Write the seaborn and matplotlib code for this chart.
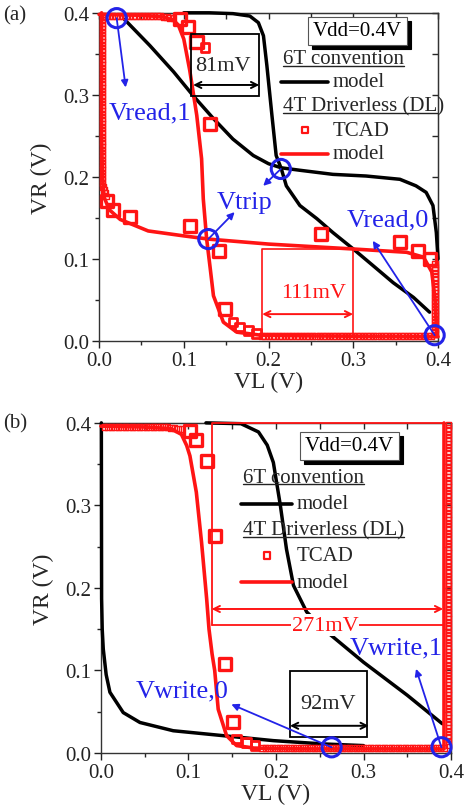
import matplotlib
matplotlib.use("Agg")
import numpy as np
import pandas as pd
import seaborn as sns
import matplotlib.pyplot as plt
from matplotlib.patches import Rectangle

# ---------------- data: panel (a) read ----------------
a6t1_vl = [0.100, 0.130, 0.158, 0.178, 0.188, 0.194, 0.198, 0.204, 0.209, 0.215, 0.221, 0.237, 0.257, 0.276, 0.300, 0.323, 0.347, 0.371, 0.390]
a6t1_vr = [0.400, 0.400, 0.399, 0.396, 0.388, 0.372, 0.336, 0.275, 0.226, 0.210, 0.189, 0.165, 0.149, 0.132, 0.112, 0.092, 0.071, 0.053, 0.035]
a6t2_vl = [0.030, 0.060, 0.088, 0.111, 0.135, 0.158, 0.182, 0.200, 0.215, 0.237, 0.276, 0.315, 0.355, 0.374, 0.386, 0.394, 0.398, 0.400]
a6t2_vr = [0.392, 0.360, 0.328, 0.299, 0.271, 0.246, 0.226, 0.216, 0.211, 0.208, 0.203, 0.201, 0.197, 0.189, 0.181, 0.165, 0.132, 0.100]

aDL1_vl = [0.003, 0.003, 0.004, 0.006, 0.012, 0.025, 0.058, 0.100, 0.130, 0.200, 0.300, 0.363, 0.383, 0.3926, 0.3965, 0.3985]
aDL1_vr = [0.400, 0.250, 0.200, 0.175, 0.160, 0.148, 0.134, 0.128, 0.124, 0.118, 0.112, 0.108, 0.102, 0.084, 0.051, 0.006]
aDL2_vl = [0.000, 0.050, 0.075, 0.088, 0.0936, 0.1000, 0.107, 0.1153, 0.121, 0.123, 0.127, 0.131, 0.135, 0.1467, 0.1625, 0.190, 0.250, 0.400]
aDL2_vr = [0.398, 0.397, 0.395, 0.391, 0.385, 0.368, 0.330, 0.275, 0.222, 0.173, 0.124, 0.090, 0.055, 0.0228, 0.0106, 0.007, 0.006, 0.005]

# TCAD, dense points (small squares)
aT_left_vr = [0.396, 0.392, 0.388, 0.384, 0.380, 0.376, 0.372, 0.368, 0.364, 0.360, 0.356, 0.352, 0.348, 0.344, 0.340, 0.336,
              0.332, 0.328, 0.324, 0.320, 0.316, 0.312, 0.308, 0.304, 0.300, 0.296, 0.292, 0.288, 0.284, 0.280, 0.276, 0.272,
              0.268, 0.264, 0.260, 0.256, 0.252, 0.248, 0.244, 0.240, 0.236, 0.232, 0.228, 0.224, 0.220, 0.216, 0.212, 0.208,
              0.204, 0.200, 0.196, 0.192, 0.188, 0.184, 0.180, 0.176]
aT_left_vl = [0.004] * 52 + [0.005, 0.006, 0.007, 0.008]
aT_top_vl = [0.008, 0.012, 0.016, 0.020, 0.024, 0.028, 0.032, 0.036, 0.040, 0.044, 0.048, 0.052, 0.056, 0.060, 0.064,
             0.068, 0.072, 0.076, 0.080, 0.084, 0.088]
aT_top_vr = [0.396] * 17 + [0.395, 0.395, 0.394, 0.394]
aT_bot_vl = [0.192, 0.196, 0.200, 0.204, 0.208, 0.212, 0.216, 0.220, 0.224, 0.228, 0.232, 0.236, 0.240, 0.244, 0.248, 0.252,
             0.256, 0.260, 0.264, 0.268, 0.272, 0.276, 0.280, 0.284, 0.288, 0.292, 0.296, 0.300, 0.304, 0.308, 0.312, 0.316,
             0.320, 0.324, 0.328, 0.332, 0.336, 0.340, 0.344, 0.348, 0.352, 0.356, 0.360, 0.364, 0.368, 0.372, 0.376, 0.380,
             0.384, 0.388, 0.392]
aT_bot_vr = [0.006] * len(aT_bot_vl)
aT_right_vr = [0.010, 0.014, 0.018, 0.022, 0.026, 0.030, 0.034, 0.038, 0.042, 0.046, 0.050, 0.054, 0.058, 0.062, 0.066,
               0.070, 0.074, 0.078, 0.082, 0.086, 0.090, 0.094]
aT_right_vl = [0.396] * len(aT_right_vr)
# TCAD, sparse points (large squares)
aT_big_vl = [0.0956, 0.105, 0.115, 0.131, 0.009, 0.016, 0.037, 0.107, 0.141, 0.149, 0.262, 0.355, 0.376, 0.390]
aT_big_vr = [0.393, 0.383, 0.364, 0.264, 0.170, 0.160, 0.151, 0.140, 0.109, 0.039, 0.130, 0.120, 0.110, 0.100]
aT_mid_vl = [0.125, 0.158, 0.166, 0.176, 0.186]
aT_mid_vr = [0.358, 0.023, 0.017, 0.0126, 0.0085]

# ---------------- data: panel (b) write ----------------
b6t1_vl = [0.0005, 0.0008, 0.0015, 0.0027, 0.006, 0.0103, 0.0255, 0.0446, 0.0826, 0.140, 0.197, 0.254, 0.300]
b6t1_vr = [0.400, 0.187, 0.150, 0.126, 0.095, 0.0736, 0.049, 0.037, 0.027, 0.021, 0.015, 0.011, 0.009]
b6t2_vl = [0.120, 0.160, 0.180, 0.190, 0.197, 0.205, 0.212, 0.220, 0.235, 0.258, 0.300, 0.350, 0.390]
b6t2_vr = [0.400, 0.399, 0.389, 0.373, 0.352, 0.300, 0.247, 0.203, 0.171, 0.147, 0.110, 0.070, 0.0355]

bDL1_vl = [0.000, 0.050, 0.080, 0.092, 0.098, 0.1017, 0.109, 0.115, 0.1208, 0.1235, 0.127, 0.130, 0.134, 0.1436, 0.155, 0.175, 0.230, 0.392]
bDL1_vr = [0.396, 0.395, 0.393, 0.386, 0.3725, 0.360, 0.316, 0.255, 0.187, 0.150, 0.120, 0.100, 0.053, 0.021, 0.009, 0.006, 0.005, 0.005]
bDL2_vl = [0.392, 0.392, 0.392]
bDL2_vr = [0.400, 0.200, 0.006]

bT_top_vl = [0.004, 0.008, 0.012, 0.016, 0.020, 0.024, 0.028, 0.032, 0.036, 0.040, 0.044, 0.048, 0.052, 0.056, 0.060,
             0.064, 0.068, 0.072, 0.076, 0.080, 0.084, 0.088, 0.092]
bT_top_vr = [0.395] * 19 + [0.394, 0.394, 0.393, 0.393]
bT_bot_vl = [0.184, 0.188, 0.192, 0.196, 0.200, 0.204, 0.208, 0.212, 0.216, 0.220, 0.224, 0.228, 0.232, 0.236, 0.240, 0.244,
             0.248, 0.252, 0.256, 0.260, 0.264, 0.268, 0.272, 0.276, 0.280, 0.284, 0.288, 0.292, 0.296, 0.300, 0.304, 0.308,
             0.312, 0.316, 0.320, 0.324, 0.328, 0.332, 0.336, 0.340, 0.344, 0.348, 0.352, 0.356, 0.360, 0.364, 0.368, 0.372,
             0.376, 0.380, 0.384, 0.388, 0.392]
bT_bot_vr = [0.006] * len(bT_bot_vl)
bT_right_vr = [0.010, 0.014, 0.018, 0.022, 0.026, 0.030, 0.034, 0.038, 0.042, 0.046, 0.050, 0.054, 0.058, 0.062, 0.066,
               0.070, 0.074, 0.078, 0.082, 0.086, 0.090, 0.094, 0.098, 0.102, 0.106, 0.110, 0.114, 0.118, 0.122, 0.126,
               0.130, 0.134, 0.138, 0.142, 0.146, 0.150, 0.154, 0.158, 0.162, 0.166, 0.170, 0.174, 0.178, 0.182, 0.186,
               0.190, 0.194, 0.198, 0.202, 0.206, 0.210, 0.214, 0.218, 0.222, 0.226, 0.230, 0.234, 0.238, 0.242, 0.246,
               0.250, 0.254, 0.258, 0.262, 0.266, 0.270, 0.274, 0.278, 0.282, 0.286, 0.290, 0.294, 0.298, 0.302, 0.306,
               0.310, 0.314, 0.318, 0.322, 0.326, 0.330, 0.334, 0.338, 0.342, 0.346, 0.350, 0.354, 0.358, 0.362, 0.366,
               0.370, 0.374, 0.378, 0.382, 0.386, 0.390, 0.394, 0.398]
bT_right_vl = [0.397] * len(bT_right_vr)
bT_big_vl = [0.1017, 0.109, 0.121, 0.130, 0.1417, 0.151]
bT_big_vr = [0.3907, 0.379, 0.354, 0.263, 0.108, 0.037]
bT_mid_vl = [0.155, 0.1665, 0.176]
bT_mid_vr = [0.017, 0.013, 0.009]

ticks = [0.0, 0.1, 0.2, 0.3, 0.4]
tick_labels = ["0.0", "0.1", "0.2", "0.3", "0.4"]

RED = "#ff1414"
BLUE = "#2323e8"
BLACK = "#000000"

sns.set_style("ticks")
plt.rcParams["font.family"] = ["Liberation Serif", "DejaVu Serif"]

fig = plt.figure(figsize=(4.65, 8.12), dpi=100)
axA = fig.add_axes([0.213, 0.579, 0.729, 0.404])
axB = fig.add_axes([0.217, 0.0714, 0.753, 0.4066])


def style_axes(ax):
    ax.set_xlim(0, 0.4)
    ax.set_ylim(0, 0.4)
    ax.set_xticks(ticks)
    ax.set_xticklabels(tick_labels)
    ax.set_yticks(ticks)
    ax.set_yticklabels(tick_labels)
    ax.set_xticks([0.05, 0.15, 0.25, 0.35], minor=True)
    ax.set_yticks([0.05, 0.15, 0.25, 0.35], minor=True)
    ax.tick_params(which="major", direction="out", length=5, width=1, labelsize=15, pad=2, colors="#222222")
    ax.tick_params(which="minor", direction="out", length=3, width=1)
    for s in ax.spines.values():
        s.set_visible(True)
        s.set_linewidth(1.0)
        s.set_color("#333333")
    top = ax.secondary_xaxis("top")
    top.set_xticks(ticks)
    top.set_xticklabels([])
    top.set_xticks([0.05, 0.15, 0.25, 0.35], minor=True)
    top.tick_params(which="both", direction="in", length=4, width=1)
    right = ax.secondary_yaxis("right")
    right.set_yticks(ticks)
    right.set_yticklabels([])
    right.set_yticks([0.05, 0.15, 0.25, 0.35], minor=True)
    right.tick_params(which="both", direction="in", length=4, width=1)
    ax.set_xlabel("VL (V)", fontsize=17, labelpad=1)
    ax.set_ylabel("VR (V)", fontsize=17, labelpad=8)


def line(ax, x, y, color, lw, z=3):
    sns.lineplot(x=x, y=y, sort=False, estimator=None, color=color, lw=lw, ax=ax, zorder=z, clip_on=False)


def squares(ax, x, y, s, lw, z=4):
    sns.scatterplot(x=x, y=y, marker="s", s=s, facecolors="none", edgecolors=RED, linewidth=lw, ax=ax,
                    zorder=z, clip_on=False, legend=False)


def circle(ax, x, y):
    ax.scatter([x], [y], s=190, facecolors="none", edgecolors=BLUE, linewidths=2.2, zorder=8, clip_on=False)


def arrow(ax, x0, y0, x1, y1):
    ax.annotate("", xy=(x1, y1), xytext=(x0, y0),
                arrowprops=dict(arrowstyle="-|>", color=BLUE, lw=1.3, mutation_scale=10, shrinkA=0, shrinkB=0), zorder=7)


def darrow(ax, x0, x1, y, color):
    ax.annotate("", xy=(x1, y), xytext=(x0, y),
                arrowprops=dict(arrowstyle="<->", color=color, lw=1.4, mutation_scale=11, shrinkA=0, shrinkB=0), zorder=6)


def vdd_box(ax, x, y):
    return ax.text(x, y, "Vdd=0.4V", fontsize=15, ha="center", va="center", color="black", zorder=10,
                   bbox=dict(boxstyle="square,pad=0.22", facecolor="white", edgecolor="#555555", lw=0.8))


def legend_block(ax, x_txt, x_line0, x_line1, x_model, y6, ym6, y4, yT, xT, ymDL):
    t1 = ax.text(x_txt, y6, "6T convention", fontsize=15, ha="left", va="center", zorder=10)
    ax.plot([x_line0, x_line1], [ym6, ym6], color=BLACK, lw=2.6, zorder=10)
    ax.text(x_model, ym6, "model", fontsize=15, ha="left", va="center", zorder=10)
    t2 = ax.text(x_txt, y4, "4T Driverless (DL)", fontsize=15, ha="left", va="center", zorder=10)
    ax.scatter([xT], [yT], marker="s", s=22, facecolors="none", edgecolors=RED, linewidths=1.6, zorder=10)
    ax.text(x_model, yT, "TCAD", fontsize=15, ha="left", va="center", zorder=10)
    ax.plot([x_line0, x_line1], [ymDL, ymDL], color=RED, lw=2.6, zorder=10)
    ax.text(x_model, ymDL, "model", fontsize=15, ha="left", va="center", zorder=10)
    return [t1, t2]


SMALL_S, SMALL_LW = 17, 1.0

# ================= panel (a) =================
ax = axA
style_axes(ax)
line(ax, a6t1_vl, a6t1_vr, BLACK, 2.5)
line(ax, a6t2_vl, a6t2_vr, BLACK, 2.5)
line(ax, aDL1_vl, aDL1_vr, RED, 2.6)
line(ax, aDL2_vl, aDL2_vr, RED, 2.6)
squares(ax, aT_left_vl + aT_top_vl + aT_bot_vl + aT_right_vl,
        aT_left_vr + aT_top_vr + aT_bot_vr + aT_right_vr, SMALL_S, SMALL_LW)
squares(ax, aT_mid_vl, aT_mid_vr, 40, 2.0)
squares(ax, aT_big_vl, aT_big_vr, 75, 2.4)

ax.add_patch(Rectangle((0.109, 0.299), 0.080, 0.075, fill=False, edgecolor=BLACK, lw=1.3, zorder=5))
darrow(ax, 0.111, 0.189, 0.312, BLACK)
ax.text(0.1466, 0.336, "81mV", fontsize=16, ha="center", va="center", zorder=6)
ax.plot([0.1925, 0.1925, 0.2998, 0.2998], [0.006, 0.112, 0.112, 0.006], color=RED, lw=1.2, zorder=5)
darrow(ax, 0.1925, 0.2998, 0.0326, RED)
ax.text(0.2527, 0.059, "111mV", fontsize=16, ha="center", va="center", color=RED, zorder=6)

for (cx, cy, tx, ty) in [(0.0208, 0.3935, 0.0314, 0.309), (0.2145, 0.2096, 0.1937, 0.189),
                         (0.1289, 0.1241, 0.160, 0.157), (0.396, 0.0069, 0.323, 0.122)]:
    arrow(ax, cx, cy, tx, ty)
    circle(ax, cx, cy)
ax.text(0.060, 0.279, "Vread,1", fontsize=19, color=BLUE, ha="center", va="center", zorder=7)
ax.text(0.1715, 0.169, "Vtrip", fontsize=19, color=BLUE, ha="center", va="center", zorder=7)
ax.text(0.341, 0.1485, "Vread,0", fontsize=19, color=BLUE, ha="center", va="center", zorder=7)

vA = vdd_box(ax, 0.305, 0.378)
ulA = legend_block(ax, 0.217, 0.215, 0.270, 0.276, 0.344, 0.316, 0.286, 0.257, 0.243, 0.228)

# ================= panel (b) =================
ax = axB
style_axes(ax)
line(ax, b6t1_vl, b6t1_vr, BLACK, 2.5)
line(ax, b6t2_vl, b6t2_vr, BLACK, 2.5)
line(ax, bDL1_vl, bDL1_vr, RED, 2.6)
line(ax, bDL2_vl, bDL2_vr, RED, 2.6)
squares(ax, bT_top_vl + bT_bot_vl + bT_right_vl, bT_top_vr + bT_bot_vr + bT_right_vr, SMALL_S, SMALL_LW)
squares(ax, bT_mid_vl, bT_mid_vr, 40, 2.0)
squares(ax, bT_big_vl, bT_big_vr, 75, 2.4)

ax.plot([0.1265, 0.1265, 0.391], [0.155, 0.4, 0.4], color=RED, lw=1.3, zorder=5, clip_on=False)
ax.plot([0.1265, 0.391], [0.155, 0.155], color=RED, lw=1.3, zorder=5)
darrow(ax, 0.1265, 0.391, 0.1745, RED)
ax.text(0.256, 0.155, "271mV", fontsize=16, ha="center", va="center", color=RED, zorder=6,
        bbox=dict(boxstyle="square,pad=0.05", facecolor="white", edgecolor="none"))
ax.add_patch(Rectangle((0.216, 0.019), 0.0877, 0.0808, fill=False, edgecolor=BLACK, lw=1.3, zorder=5))
darrow(ax, 0.216, 0.306, 0.033, BLACK)
ax.text(0.260, 0.0594, "92mV", fontsize=16, ha="center", va="center", zorder=6)

for (cx, cy, tx, ty) in [(0.2636, 0.0069, 0.149, 0.059), (0.389, 0.007, 0.360, 0.102)]:
    arrow(ax, cx, cy, tx, ty)
    circle(ax, cx, cy)
ax.text(0.093, 0.0755, "Vwrite,0", fontsize=19, color=BLUE, ha="center", va="center", zorder=7)
ax.text(0.337, 0.128, "Vwrite,1", fontsize=19, color=BLUE, ha="center", va="center", zorder=7)

vB = vdd_box(ax, 0.284, 0.372)
ulB = legend_block(ax, 0.162, 0.160, 0.218, 0.224, 0.334, 0.302, 0.270, 0.239, 0.190, 0.207)

fig.text(0.006, 0.980, "(a)", fontsize=15, ha="left", va="center")
fig.text(0.006, 0.478, "(b)", fontsize=15, ha="left", va="center")

# underline legend headings and add shadow behind the Vdd boxes
fig.canvas.draw()
r = fig.canvas.get_renderer()
for ax_, lst, vt in [(axA, ulA, vA), (axB, ulB, vB)]:
    inv = ax_.transData.inverted()
    for t in lst:
        bb = t.get_window_extent(r)
        x0, y0 = inv.transform((bb.x0, bb.y0 + 2.5))
        x1, _ = inv.transform((bb.x1, bb.y0 + 2.5))
        ax_.plot([x0, x1], [y0, y0], color="#222222", lw=1.0, zorder=10)
    pb = vt.get_bbox_patch().get_window_extent(r)
    off = 4.0
    (sx0, sy0) = inv.transform((pb.x0 + off, pb.y0 - off))
    (sx1, sy1) = inv.transform((pb.x1 + off, pb.y1 - off))
    ax_.add_patch(Rectangle((sx0, sy0), sx1 - sx0, sy1 - sy0, facecolor="black", edgecolor="black",
                            lw=0.8, zorder=9.5))

fig.savefig("out.png", dpi=100)
